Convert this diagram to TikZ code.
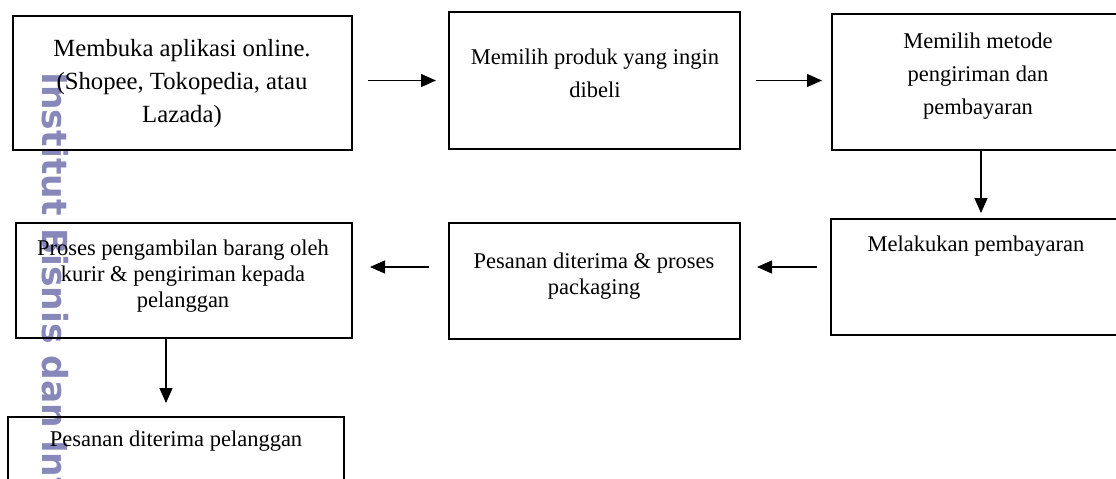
\documentclass[tikz,border=0pt]{standalone}
\usepackage{fontspec}
\setmainfont{Liberation Serif}
\newfontfamily\markfont{DejaVu Sans}
\usetikzlibrary{arrows.meta}
\definecolor{markblue}{RGB}{135,135,185}

\tikzset{
	stepbox/.style={draw, rectangle, line width=2pt, inner sep=0pt},
	steptext/.style={align=center, inner sep=0pt, font=\fontsize{22.5}{26}\selectfont},
	widetext/.style={steptext, font=\fontsize{22.5}{33}\selectfont},
	flow/.style={-{Triangle[length=15pt,width=13pt]}, line width=1.3pt}
}

\begin{document}
\begin{tikzpicture}[x=1pt, y=-1pt]
	\useasboundingbox (0,0) rectangle (1116,479);
	%Watermark
		\node [anchor=base west, rotate=-90, inner sep=0pt, text=markblue, font=\markfont\bfseries\fontsize{34.5}{40}\selectfont] (mark) at (42, 72) {Institut Bisnis dan Inf};
	%Top line
		%Open the app
		\node [stepbox, minimum width=339pt, minimum height=134pt] (open) at (182.5, 83) {};
		\node [widetext, font=\fontsize{24.7}{33}\selectfont] (opentext) at (182, 84) {Membuka aplikasi online.\\(Shopee, Tokopedia, atau\\Lazada)};
		%Choose product
		\node [stepbox, minimum width=291pt, minimum height=137pt] (product) at (594.5, 80.5) {};
		\node [widetext] (producttext) at (595, 73) {Memilih produk yang ingin\\dibeli};
		%Choose shipping and payment
		\node [stepbox, minimum width=298pt, minimum height=136pt] (method) at (981, 82) {};
		\node [widetext] (methodtext) at (978, 76) {Memilih metode\\pengiriman dan\\pembayaran};
	%Middle line
		%Pay
		\node [stepbox, minimum width=299pt, minimum height=116pt] (pay) at (980.5, 277) {};
		\node [steptext] (paytext) at (976, 246) {Melakukan pembayaran};
		%Order packed
		\node [stepbox, minimum width=291pt, minimum height=116pt] (packing) at (594.5, 281) {};
		\node [steptext] (packingtext) at (594, 276) {Pesanan diterima \& proses\\packaging};
		%Courier pickup
		\node [stepbox, minimum width=336pt, minimum height=115pt] (courier) at (184, 280.5) {};
		\node [steptext] (couriertext) at (183, 276) {Proses pengambilan barang oleh\\kurir \& pengiriman kepada\\pelanggan};
	%Bottom line
		%Order received
		\node [stepbox, minimum width=336pt, minimum height=115pt] (received) at (176, 474.5) {};
		\node [steptext] (receivedtext) at (176, 441) {Pesanan diterima pelanggan};
	%Arrows
		\draw [flow, shorten <=15pt, shorten >=12pt] (open.east |- product.west) -- (product.west);
		\draw [flow, shorten <=15pt, shorten >=9pt] (product.east) -- (product.east -| method.west);
		\draw [flow, shorten >=5pt] (method.south) -- (method.south |- pay.north);
		\draw [flow, shorten <=13pt, shorten >=16pt] ([yshift=10pt]pay.west) -- ([yshift=10pt]pay.west -| packing.east);
		\draw [flow, shorten <=19pt, shorten >=17pt] ([yshift=14pt]packing.west) -- ([yshift=14pt]packing.west -| courier.east);
		\draw [flow, shorten >=13pt] ([xshift=-18pt]courier.south) -- ([xshift=-18pt]courier.south |- received.north);
\end{tikzpicture}
\end{document}
